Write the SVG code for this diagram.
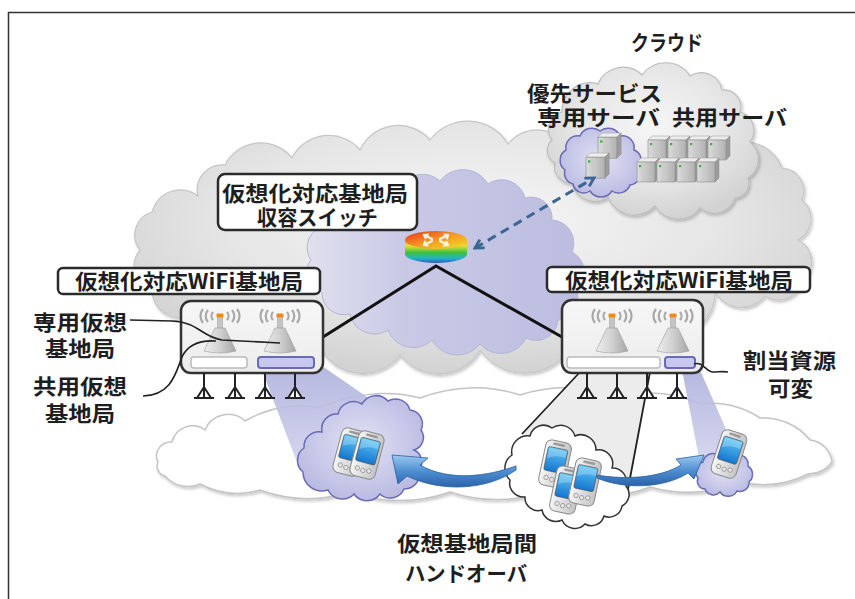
<svg xmlns="http://www.w3.org/2000/svg" xmlns:xlink="http://www.w3.org/1999/xlink" width="855" height="599" viewBox="0 0 855 599">
  <style>
    .lbl { font-family: "Noto Sans CJK JP", "Noto Sans CJK SC", sans-serif; font-weight: 700; fill: #1e1e1e; font-size: 21px; }
    .box { fill: #ffffff; stroke: #2a2a2a; stroke-width: 2.5; }
    .bs { fill: url(#bsFill); stroke: #333333; stroke-width: 2.5; }
    .leg { stroke: #222222; stroke-width: 2; fill: #ffffff; }
    .ptr { fill: none; stroke: #222222; stroke-width: 1.6; }
    .wire { stroke: #111111; stroke-width: 3; fill: none; }
    .edge { stroke: #222222; stroke-width: 1.8; fill: none; }
    .lav { fill: url(#lavCloud); stroke: #6a6ab6; stroke-width: 1.5; }
    .handover { fill: url(#arrowBlue); stroke: #2a5e9e; stroke-width: 0.8; }
  </style>
  <defs>
    <radialGradient id="grayCloud" cx="50%" cy="40%" r="60%">
      <stop offset="0" stop-color="#f6f6f6"/>
      <stop offset="0.6" stop-color="#e6e6e6"/>
      <stop offset="1" stop-color="#d2d2d2"/>
    </radialGradient>
    <linearGradient id="purpleCloud" x1="0" y1="0" x2="1" y2="0">
      <stop offset="0" stop-color="#e0e0ee"/>
      <stop offset="0.35" stop-color="#c9c9e6"/>
      <stop offset="1" stop-color="#bcbce0"/>
    </linearGradient>
    <radialGradient id="lavCloud" cx="50%" cy="45%" r="60%">
      <stop offset="0" stop-color="#e2e2f4"/>
      <stop offset="1" stop-color="#b8b8e2"/>
    </radialGradient>
    <linearGradient id="beam" x1="0" y1="0" x2="0" y2="1">
      <stop offset="0" stop-color="#aeb0dc"/>
      <stop offset="1" stop-color="#d2d3ee"/>
    </linearGradient>
    <linearGradient id="bsFill" x1="0" y1="0" x2="0" y2="1">
      <stop offset="0" stop-color="#f7f7f7"/>
      <stop offset="1" stop-color="#ececec"/>
    </linearGradient>
    <linearGradient id="cone" x1="0" y1="0" x2="1" y2="0">
      <stop offset="0" stop-color="#eeeeee"/>
      <stop offset="0.5" stop-color="#d0d0d0"/>
      <stop offset="1" stop-color="#a6a6a6"/>
    </linearGradient>
    <linearGradient id="arrowBlue" x1="0" y1="0" x2="0" y2="1">
      <stop offset="0" stop-color="#9ccaef"/>
      <stop offset="0.5" stop-color="#4f8fd2"/>
      <stop offset="1" stop-color="#2a62aa"/>
    </linearGradient>
    <linearGradient id="routerTop" x1="0" y1="0" x2="1" y2="1">
      <stop offset="0" stop-color="#e8301c"/>
      <stop offset="0.5" stop-color="#f59a22"/>
      <stop offset="1" stop-color="#f4e02a"/>
    </linearGradient>
    <linearGradient id="routerSide" x1="0" y1="0" x2="0" y2="1">
      <stop offset="0" stop-color="#f5a020"/>
      <stop offset="0.25" stop-color="#e8e030"/>
      <stop offset="0.55" stop-color="#3cc040"/>
      <stop offset="0.8" stop-color="#20b4c8"/>
      <stop offset="1" stop-color="#3456c0"/>
    </linearGradient>
    <linearGradient id="phBody" x1="0" y1="0" x2="1" y2="0">
      <stop offset="0" stop-color="#f6f6f6"/>
      <stop offset="1" stop-color="#c4c4c4"/>
    </linearGradient>
    <linearGradient id="phScr" x1="0" y1="0" x2="0" y2="1">
      <stop offset="0" stop-color="#5ec4f6"/>
      <stop offset="1" stop-color="#1476cf"/>
    </linearGradient>
    <linearGradient id="srvFront" x1="0" y1="0" x2="1" y2="0">
      <stop offset="0" stop-color="#dcdcdc"/>
      <stop offset="1" stop-color="#b2b2b2"/>
    </linearGradient>
    <filter id="soft" x="-5%" y="-5%" width="110%" height="115%">
      <feDropShadow dx="1.5" dy="2" stdDeviation="1.5" flood-color="#000" flood-opacity="0.22"/>
    </filter>
    <marker id="chev" viewBox="0 0 10 10" refX="8" refY="5" markerWidth="4" markerHeight="4" orient="auto-start-reverse" markerUnits="strokeWidth">
      <path d="M1,1 L8,5 L1,9" fill="none" stroke="#3a6690" stroke-width="2.4"/>
    </marker>
    <!-- antenna: origin at the orange tip -->
    <g id="ant">
      <g fill="none" stroke="#a8a8a8" stroke-width="2.2">
        <path d="M-7,-4 A6,6 0 0 0 -7,4"/>
        <path d="M-12,-6 A9,9 0 0 0 -12,6"/>
        <path d="M-17,-7 A11,11 0 0 0 -17,7"/>
        <path d="M7,-4 A6,6 0 0 1 7,4"/>
        <path d="M12,-6 A9,9 0 0 1 12,6"/>
        <path d="M17,-7 A11,11 0 0 1 17,7"/>
      </g>
      <rect x="-2.5" y="0" width="5" height="14" fill="#c4c4c4" stroke="#9a9a9a" stroke-width="0.5"/>
      <rect x="-3.5" y="-2.5" width="7" height="4" rx="1" fill="#f08a1c"/>
      <path d="M-5,12 L5,12 L16,35 Q0,39 -16,35 Z" fill="url(#cone)" stroke="#9c9c9c" stroke-width="0.6"/>
    </g>
    <!-- antenna leg below the base station box -->
    <g id="leg">
      <path class="leg" d="M-7,25 L0,14 L7,25 Z"/>
      <path class="leg" fill="none" d="M0,0 V25 M-10,25 H10"/>
    </g>
    <!-- handheld terminal -->
    <g id="phone">
      <rect x="-13" y="-23" width="26" height="46" rx="6" fill="url(#phBody)" stroke="#8a8a8a" stroke-width="1"/>
      <rect x="-6" y="-21" width="12" height="2.5" rx="1" fill="#9a9a9a"/>
      <rect x="-10" y="-16" width="20" height="24" rx="2" fill="url(#phScr)" stroke="#4a4a4a" stroke-width="0.6"/>
      <path d="M-9,-15 L9,-15 L9,-8 Q0,-10 -9,-4 Z" fill="#ffffff" opacity="0.25"/>
      <g fill="#e6e6e6" stroke="#888888" stroke-width="0.7">
        <circle cx="-6" cy="15" r="2.2"/>
        <circle cx="0" cy="16" r="2.2"/>
        <circle cx="6" cy="15" r="2.2"/>
      </g>
    </g>
    <!-- rack server -->
    <g id="srv">
      <path d="M0,4 L4,0 L22,0 L18,4 Z" fill="#ececec" stroke="#9a9a9a" stroke-width="0.5"/>
      <path d="M18,4 L22,0 L22,20 L18,24 Z" fill="#9c9c9c" stroke="#8a8a8a" stroke-width="0.5"/>
      <rect x="0" y="4" width="18" height="20" fill="url(#srvFront)" stroke="#8c8c8c" stroke-width="0.6"/>
      <rect x="2" y="7" width="2.2" height="2.2" fill="#3cb043"/>
      <path d="M6,6 V22 M10,6 V22" stroke="#c8c8c8" stroke-width="0.8"/>
    </g>
  </defs>

  <rect width="855" height="599" fill="#ffffff"/>
  <rect x="8.5" y="12.5" width="900" height="700" fill="none" stroke="#333333" stroke-width="1.5"/>

  <!-- backbone cloud -->
  <path id="backbone" filter="url(#soft)" fill="url(#grayCloud)" stroke="#c6c6c6" stroke-width="1.2"
        d="M140,250 A24,24 0 0 1 152,212 A29,29 0 0 1 198,196 A25,25 0 0 1 225,165 A40,40 0 0 1 292,158 A41,41 0 0 1 360,150 A42,42 0 0 1 430,140 A47,47 0 0 1 508,144 A37,37 0 0 1 570,150 A42,42 0 0 1 640,148 A47,47 0 0 1 718,152 A40,40 0 0 1 782,168 A23,23 0 0 1 802,200 A24,24 0 0 1 798,240 A24,24 0 0 1 803,280 A25,25 0 0 1 765,296 A30,30 0 0 1 715,292 A47,47 0 0 1 650,335 A49,49 0 0 1 570,348 A54,54 0 0 1 480,350 A48,48 0 0 1 400,355 A48,48 0 0 1 320,348 A43,43 0 0 1 250,330 A37,37 0 0 1 190,315 A27,27 0 0 1 152,290 A25,25 0 0 1 140,250 Z"/>

  <!-- cloud with servers -->
  <g id="cloud-servers">
    <path filter="url(#soft)" fill="url(#grayCloud)" stroke="#bdbdbd" stroke-width="1.2"
          d="M552,140 A18,18 0 0 1 562,112 A28,28 0 0 1 598,84 A27,27 0 0 1 642,75 A29,29 0 0 1 690,76 A21,21 0 0 1 722,90 A17,17 0 0 1 740,112 A19,19 0 0 1 750,142 A22,22 0 0 1 748,178 A15,15 0 0 1 735,198 A22,22 0 0 1 700,208 A27,27 0 0 1 655,206 A28,28 0 0 1 608,197 A23,23 0 0 1 572,183 A16,16 0 0 1 555,163 A14,14 0 0 1 552,140 Z"/>
    <path class="lav" stroke-width="0.8" stroke="#9a9ad0"
          d="M565,170 A12,12 0 0 1 566,150 A12,12 0 0 1 580,136 A13,13 0 0 1 600,131 A13,13 0 0 1 620,136 A12,12 0 0 1 634,150 A11,11 0 0 1 638,168 A11,11 0 0 1 630,185 A12,12 0 0 1 612,191 A13,13 0 0 1 590,191 A11,11 0 0 1 573,184 A11,11 0 0 1 565,170 Z"/>
    <use href="#srv" transform="translate(598,133) scale(1.05)"/>
    <use href="#srv" transform="translate(586,153) scale(1.05)"/>
    <use href="#srv" transform="translate(648,136)"/>
    <use href="#srv" transform="translate(668,136)"/>
    <use href="#srv" transform="translate(688,136)"/>
    <use href="#srv" transform="translate(708,136)"/>
    <use href="#srv" transform="translate(637,158)"/>
    <use href="#srv" transform="translate(657,158)"/>
    <use href="#srv" transform="translate(677,158)"/>
    <use href="#srv" transform="translate(697,158)"/>
  </g>

  <!-- switch cloud -->
  <path id="switch-cloud" fill="url(#purpleCloud)" stroke="#b4b4d8" stroke-width="1"
        d="M311,260 A22,22 0 0 1 325,226 A24,24 0 0 1 360,206 A24,24 0 0 1 398,192 A26,26 0 0 1 440,181 A29,29 0 0 1 488,184 A24,24 0 0 1 525,198 A21,21 0 0 1 552,220 A23,23 0 0 1 572,252 A23,23 0 0 1 576,290 A21,21 0 0 1 558,320 A22,22 0 0 1 526,338 A28,28 0 0 1 480,344 A29,29 0 0 1 432,340 A27,27 0 0 1 388,330 A25,25 0 0 1 350,314 A22,22 0 0 1 322,292 A20,20 0 0 1 311,260 Z"/>

  <!-- ground coverage area -->
  <path id="ground" filter="url(#soft)" fill="#ffffff" stroke="#c4c4c4" stroke-width="1.5"
        d="M158,462 A14,14 0 0 1 172,442 A21,21 0 0 1 205,430 A25,25 0 0 1 245,421 A110,110 0 0 1 320,408 A150,150 0 0 1 420,398 A150,150 0 0 1 520,395 A150,150 0 0 1 620,397 A120,120 0 0 1 700,404 A90,90 0 0 1 760,418 A60,60 0 0 1 810,440 A25,25 0 0 1 832,462 A30,30 0 0 1 808,474 A100,100 0 0 1 740,482 A140,140 0 0 1 650,487 A150,150 0 0 1 550,490 A150,150 0 0 1 450,492 A150,150 0 0 1 350,492 A140,140 0 0 1 260,490 A80,80 0 0 1 200,484 A30,30 0 0 1 165,476 A10,10 0 0 1 158,462 Z"/>

  <!-- radio coverage beams -->
  <g id="beams">
    <path d="M263,373 L322,366 L386,410 L300,470 Z" fill="url(#beam)" opacity="0.9"/>
    <path d="M580,372 L650,372 L628,489 L522,434 Z" fill="#ececec"/>
    <path class="edge" d="M580,372 L522,434 M650,372 L628,489"/>
    <path d="M682,370 L700,370 L736,452 L700,463 Z" fill="url(#beam)" opacity="0.9"/>
  </g>

  <!-- connectors -->
  <g id="connectors">
    <path class="wire" d="M323,337 L436,266 L562,337"/>
    <path d="M475,248 L594,178" fill="none" stroke="#3a6690" stroke-width="3" stroke-dasharray="9 6" marker-start="url(#chev)" marker-end="url(#chev)"/>
  </g>

  <!-- aggregation switch -->
  <g id="switch">
    <path d="M405,240 L405,254 A31,9 0 0 0 467,254 L467,240 Z" fill="url(#routerSide)"/>
    <ellipse cx="436" cy="240" rx="31" ry="9" fill="url(#routerTop)"/>
    <g stroke="#ffffff" stroke-width="2.2" stroke-linecap="round" fill="none" opacity="0.9">
      <path d="M424,235 L432,239 M440,241 L448,245 M448,235 L440,239 M432,241 L424,245"/>
      <path d="M424,235 L428,234.5 M424,235 L425.5,238 M448,245 L444,245.5 M448,245 L446.5,242 M448,235 L447,238.5 M448,235 L444.5,234.5 M424,245 L427.5,245.5 M424,245 L425,241.5"/>
    </g>
  </g>

  <!-- labels with boxes -->
  <g id="switch-label">
    <rect class="box" x="218" y="174" width="199" height="56" rx="7"/>
    <text class="lbl" x="222" y="201" textLength="186" lengthAdjust="spacingAndGlyphs">仮想化対応基地局</text>
    <text class="lbl" x="257" y="225" textLength="121" lengthAdjust="spacingAndGlyphs">収容スイッチ</text>
  </g>

  <!-- left base station -->
  <g id="bs-left">
    <rect class="box" x="58" y="268" width="262" height="26" rx="5"/>
    <text class="lbl" x="75" y="289" textLength="228" lengthAdjust="spacingAndGlyphs">仮想化対応WiFi基地局</text>
    <rect class="bs" x="181" y="301" width="142" height="72" rx="10"/>
    <use href="#ant" x="220" y="316"/>
    <use href="#ant" x="280" y="316"/>
    <rect x="191" y="357" width="56" height="11" rx="3" fill="#ffffff" stroke="#bbbbbb" stroke-width="1.5"/>
    <rect x="258" y="357" width="56" height="11" rx="3" fill="#c8c8ee" stroke="#6a6ab8" stroke-width="2"/>
    <use href="#leg" x="204" y="373"/>
    <use href="#leg" x="235" y="373"/>
    <use href="#leg" x="265" y="373"/>
    <use href="#leg" x="295" y="373"/>
  </g>

  <!-- right base station -->
  <g id="bs-right">
    <rect class="box" x="547" y="267" width="263" height="25" rx="5"/>
    <text class="lbl" x="565" y="288" textLength="228" lengthAdjust="spacingAndGlyphs">仮想化対応WiFi基地局</text>
    <rect class="bs" x="562" y="300" width="141" height="73" rx="10"/>
    <use href="#ant" x="612" y="316"/>
    <use href="#ant" x="673" y="316"/>
    <rect x="567" y="357" width="93" height="11" rx="3" fill="#ffffff" stroke="#bbbbbb" stroke-width="1.5"/>
    <rect x="665" y="357" width="30" height="11" rx="3" fill="#c8c8ee" stroke="#6a6ab8" stroke-width="2"/>
    <use href="#leg" x="587" y="373"/>
    <use href="#leg" x="617" y="373"/>
    <use href="#leg" x="647" y="373"/>
    <use href="#leg" x="677" y="373"/>
  </g>

  <!-- terminals served by the dedicated virtual base station -->
  <g id="terminals-left">
    <path class="lav" d="M303,472 A15,15 0 0 1 304,448 A15,15 0 0 1 322,432 A15,15 0 0 1 338,414 A16,16 0 0 1 362,404 A16,16 0 0 1 388,401 A15,15 0 0 1 410,410 A14,14 0 0 1 421,430 A13,13 0 0 1 414,450 A13,13 0 0 1 419,470 A15,15 0 0 1 404,489 A15,15 0 0 1 380,494 A16,16 0 0 1 354,494 A16,16 0 0 1 328,490 A19,19 0 0 1 303,472 Z"/>
    <use href="#phone" transform="translate(350,452) rotate(15)"/>
    <use href="#phone" transform="translate(367,455) rotate(15)"/>
  </g>

  <!-- terminals on the shared virtual base station -->
  <g id="terminals-mid">
    <path fill="#ffffff" stroke="#333333" stroke-width="1.5" d="M510,480 A16,16 0 0 1 512,455 A16,16 0 0 1 530,436 A14,14 0 0 1 552,428 A15,15 0 0 1 575,436 A15,15 0 0 1 596,450 A14,14 0 0 1 612,468 A14,14 0 0 1 626,486 A13,13 0 0 1 622,506 A13,13 0 0 1 604,516 A13,13 0 0 1 585,524 A14,14 0 0 1 562,520 A14,14 0 0 1 542,510 A13,13 0 0 1 525,497 A14,14 0 0 1 510,480 Z"/>
    <use href="#phone" transform="translate(555,464) rotate(12)"/>
    <use href="#phone" transform="translate(566,490) rotate(12)"/>
    <use href="#phone" transform="translate(585,482) rotate(12)"/>
  </g>

  <!-- terminal after handover -->
  <g id="terminals-right">
    <path class="lav" d="M698,478 A10,10 0 0 1 703,462 A10,10 0 0 1 718,455 A10,10 0 0 1 735,455 A10,10 0 0 1 748,466 A10,10 0 0 1 749,482 A9,9 0 0 1 737,491 A10,10 0 0 1 720,492 A9,9 0 0 1 705,489 A8,8 0 0 1 698,478 Z"/>
    <use href="#phone" transform="translate(729,454) rotate(18)"/>
  </g>

  <!-- handover arrows -->
  <g id="handover">
    <path class="handover" d="M392,455 L428,458 L420,465 C450,482 488,476 516,466 L516,470 C486,491 440,492 407,476 L398,484 Z"/>
    <path class="handover" d="M704,455 L694,479 L688,473 C665,488 625,490 597,478 L597,475 C625,480 660,478 681,465 L676,459 Z"/>
  </g>

  <!-- annotation leaders -->
  <g id="leaders">
    <path class="ptr" d="M130,320 L172,321 C198,322 202,337 222,340 L280,343"/>
    <path class="ptr" d="M143,396 C172,395 176,372 182,357 C188,344 200,340 216,341"/>
    <path class="ptr" d="M694,364 C703,361 706,372 713,372 C719,372 722,371 728,372"/>
  </g>

  <!-- free-standing captions -->
  <g id="captions">
    <text class="lbl" x="631" y="50" font-size="19" textLength="72" lengthAdjust="spacingAndGlyphs">クラウド</text>
    <text class="lbl" x="527" y="101" textLength="135" lengthAdjust="spacingAndGlyphs">優先サービス</text>
    <text class="lbl" x="537" y="125" textLength="123" lengthAdjust="spacingAndGlyphs">専用サーバ</text>
    <text class="lbl" x="672" y="125" textLength="115" lengthAdjust="spacingAndGlyphs">共用サーバ</text>
    <text class="lbl" x="33" y="330" textLength="94" lengthAdjust="spacingAndGlyphs">専用仮想</text>
    <text class="lbl" x="45" y="356" textLength="70" lengthAdjust="spacingAndGlyphs">基地局</text>
    <text class="lbl" x="33" y="394" textLength="94" lengthAdjust="spacingAndGlyphs">共用仮想</text>
    <text class="lbl" x="45" y="421" textLength="70" lengthAdjust="spacingAndGlyphs">基地局</text>
    <text class="lbl" x="743" y="368" textLength="93" lengthAdjust="spacingAndGlyphs">割当資源</text>
    <text class="lbl" x="768" y="396" textLength="45" lengthAdjust="spacingAndGlyphs">可変</text>
    <text class="lbl" x="397" y="551" textLength="140" lengthAdjust="spacingAndGlyphs">仮想基地局間</text>
    <text class="lbl" x="405" y="581" textLength="122" lengthAdjust="spacingAndGlyphs">ハンドオーバ</text>
  </g>
</svg>
